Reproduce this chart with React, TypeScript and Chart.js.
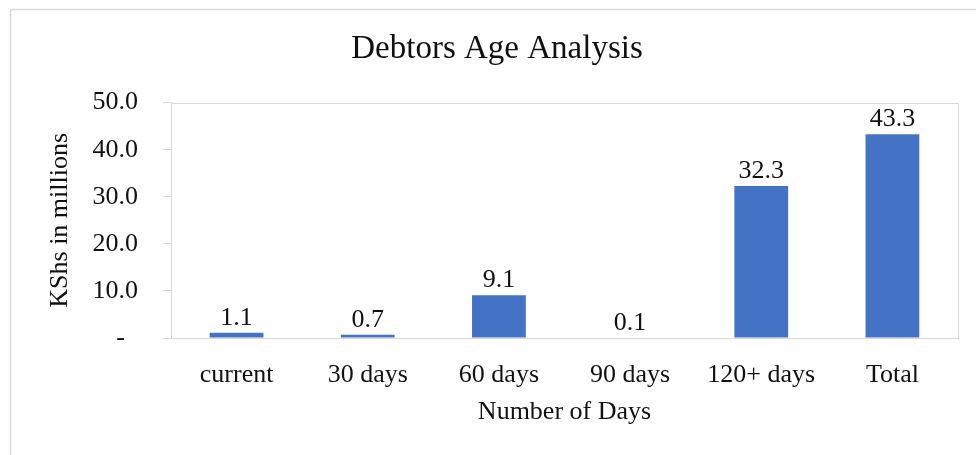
import React, { useEffect, useRef } from "react";
import { Chart, registerables } from "chart.js";

Chart.register(...registerables);

const categories = ["current", "30 days", "60 days", "90 days", "120+ days", "Total"];
const values = [1.1, 0.7, 9.1, 0.1, 32.3, 43.3];
const yMin = 0;
const yMax = 50;
const yStep = 10;
const chartTitle = "Debtors Age Analysis";
const xTitle = "Number of Days";
const yTitle = "KShs in millions";

const FONT = "'Liberation Serif', 'Times New Roman', serif";
const GRAY = "#d9d9d9";
const BLUE = "#4472C4";
const TEXT = "#111111";

const framePlugin = {
  id: "frame",
  beforeDraw(chart: any) {
    const { ctx } = chart;
    ctx.save();
    ctx.fillStyle = "#ffffff";
    ctx.fillRect(0, 0, chart.width, chart.height);
    ctx.strokeStyle = GRAY;
    ctx.lineWidth = 1.5;
    ctx.strokeRect(10.5, 9.5, chart.width + 20, chart.height + 20);
    ctx.restore();
  },
  beforeDatasetsDraw(chart: any) {
    const { ctx, chartArea } = chart;
    ctx.save();
    ctx.strokeStyle = GRAY;
    ctx.lineWidth = 1;
    ctx.strokeRect(
      Math.round(chartArea.left) + 0.5,
      Math.round(chartArea.top) + 0.5,
      Math.round(chartArea.right - chartArea.left),
      Math.round(chartArea.bottom - chartArea.top)
    );
    ctx.restore();
  },
};

const valueLabelPlugin = {
  id: "valueLabels",
  afterDatasetsDraw(chart: any) {
    const { ctx } = chart;
    const meta = chart.getDatasetMeta(0);
    ctx.save();
    ctx.font = `26px ${FONT}`;
    ctx.fillStyle = TEXT;
    ctx.textAlign = "center";
    ctx.textBaseline = "alphabetic";
    meta.data.forEach((bar: any, i: number) => {
      const v = chart.data.datasets[0].data[i] as number;
      ctx.fillText(v.toFixed(1), bar.x, bar.y - 8);
    });
    ctx.restore();
  },
};

export default function App() {
  const ref = useRef<HTMLCanvasElement | null>(null);

  useEffect(() => {
    if (!ref.current) return;
    const chart = new Chart(ref.current, {
      type: "bar",
      data: {
        labels: categories,
        datasets: [
          {
            data: values,
            backgroundColor: BLUE,
            borderWidth: 0,
            barPercentage: 0.41,
            categoryPercentage: 1,
          },
        ],
      },
      options: {
        animation: false,
        responsive: false,
        devicePixelRatio: 1,
        layout: { padding: { left: 18, top: 0, right: 0, bottom: 0 } },
        plugins: {
          legend: { display: false },
          tooltip: { enabled: false },
          title: {
            display: true,
            text: chartTitle,
            color: TEXT,
            font: { family: FONT, size: 33, weight: "normal" },
            padding: { top: 30, bottom: 33 },
          },
        },
        scales: {
          x: {
            grid: { display: false },
            border: { display: true, color: GRAY },
            ticks: {
              padding: 14,
              color: TEXT,
              font: { family: FONT, size: 26 },
              maxRotation: 0,
            },
            title: {
              display: true,
              text: xTitle,
              color: TEXT,
              font: { family: FONT, size: 26 },
              padding: { top: 7, bottom: 27 },
            },
            afterFit: (s: any) => {
              s.height = 117;
            },
          },
          y: {
            min: yMin,
            max: yMax,
            ticks: {
              stepSize: yStep,
              padding: 25,
              color: TEXT,
              font: { family: FONT, size: 26 },
              callback: (v: any) => (Number(v) === 0 ? "-  " : Number(v).toFixed(1)),
            },
            grid: {
              drawOnChartArea: false,
              drawTicks: true,
              tickLength: 8,
              color: GRAY,
            },
            border: { display: true, color: GRAY },
            title: {
              display: true,
              text: yTitle,
              color: TEXT,
              font: { family: FONT, size: 26 },
              padding: { top: 27, bottom: 0 },
            },
            afterFit: (s: any) => {
              s.width = 153;
            },
          },
          yRightSpacer: {
            position: "right",
            display: true,
            grid: { display: false, drawTicks: false },
            border: { display: false },
            ticks: { display: false },
            afterFit: (s: any) => {
              s.width = 18;
            },
          },
        },
      },
      plugins: [framePlugin, valueLabelPlugin],
    });
    return () => chart.destroy();
  }, []);

  return (
    <canvas
      ref={ref}
      width={976}
      height={455}
      style={{ position: "absolute", left: 0, top: 0, width: 976, height: 455 }}
    />
  );
}
